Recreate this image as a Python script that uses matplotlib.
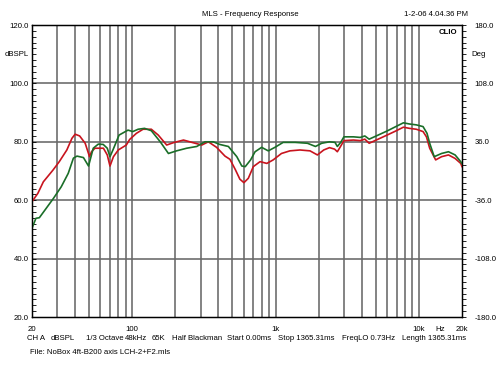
import numpy as np
import matplotlib.pyplot as plt
from matplotlib.ticker import FixedLocator, FormatStrFormatter

plt.rcParams['font.family'] = ['Liberation Sans', 'DejaVu Sans']

# red trace (Hz, dBSPL)
freq_red = [20, 22, 24, 28, 31, 35, 38, 40, 43, 47, 50.4, 52, 55, 63, 67, 70, 74, 80, 91,
            96, 107, 119, 136, 152, 174, 194, 228, 261, 306, 340, 388, 444, 481, 524,
            564, 602, 646, 700, 780, 870, 963, 1100, 1260, 1480, 1740, 1960, 2170, 2380,
            2580, 2700, 2850, 3000, 3500, 3900, 4200, 4500, 5200, 6000, 6900, 7800, 8600,
            9600, 10700, 11300, 11900, 13100, 14400, 16100, 17900, 19600, 20000]
spl_red = [59.5, 62.4, 66.3, 70.3, 73.2, 77.2, 81.2, 82.6, 82.0, 79.5, 74.9, 76.6, 77.8,
           77.8, 75.5, 71.7, 74.9, 77.2, 78.9, 80.8, 82.9, 84.3, 84.3, 82.3, 78.9, 79.7,
           80.6, 79.8, 78.9, 80.0, 78.1, 75.1, 74.0, 70.5, 67.2, 66.0, 67.5, 71.5, 73.2,
           72.6, 73.8, 76.0, 76.9, 77.2, 76.9, 75.5, 77.2, 78.0, 77.5, 76.6, 78.5, 80.4,
           80.6, 80.4, 80.9, 79.5, 80.9, 82.3, 83.7, 85.0, 84.6, 84.3, 83.5, 81.7, 77.8,
           73.8, 74.9, 75.5, 74.3, 72.6, 71.5]

# green trace (Hz, dBSPL)
freq_green = [20, 21.3, 22.5, 24.6, 28.2, 32, 35.8, 38.9, 41.2, 45.7, 49.6, 53.5, 58, 62.8,
              67, 70, 73.7, 81, 93.5, 101, 110, 122, 136, 157, 179, 204, 240, 282, 322,
              368, 408, 469, 537, 582, 615, 670, 720, 800, 890, 990, 1130, 1370, 1670,
              1900, 2100, 2380, 2600, 2700, 2850, 3000, 3500, 3900, 4200, 4500, 5200,
              6000, 6900, 7800, 8600, 9600, 10700, 11400, 11900, 12800, 14400, 16100,
              17900, 19600, 20000]
spl_green = [50.4, 53.8, 54.0, 56.6, 60.6, 64.6, 69.2, 74.4, 75.1, 74.6, 71.7, 77.8, 79.2,
             79.1, 77.8, 74.9, 77.4, 82.3, 84.0, 83.5, 84.3, 84.6, 83.8, 80.0, 76.0, 76.9,
             77.8, 78.4, 80.0, 80.0, 79.1, 78.4, 74.9, 71.7, 71.5, 73.8, 76.6, 78.1, 76.9,
             78.1, 79.8, 79.8, 79.5, 78.4, 79.5, 80.0, 79.8, 78.4, 79.8, 81.7, 81.7, 81.5,
             82.0, 80.9, 82.3, 83.7, 85.2, 86.5, 86.1, 85.8, 85.2, 82.9, 79.5, 74.9, 76.0,
             76.6, 75.5, 73.2, 72.5]

left_ticks = [20, 40, 60, 80, 100, 120]
right_ticks = [-180, -108, -36, 36, 108, 180]
grid_freqs = [30, 40, 50, 60, 70, 80, 90, 100, 200, 300, 400, 500, 600, 700, 800, 900,
              1000, 2000, 3000, 4000, 5000, 6000, 7000, 8000, 9000, 10000]
x_labels = {20: '20', 100: '100', 1000: '1k', 10000: '10k', 20000: '20k'}
info = ['CH A', 'dBSPL', '1/3 Octave', '48kHz', '65K', 'Half Blackman', 'Start 0.00ms',
        'Stop 1365.31ms', 'FreqLO 0.73Hz', 'Length 1365.31ms']
info_x = [27, 51, 86, 125, 152, 172, 227, 278, 342, 402]

fs = 5.6
fig = plt.figure(figsize=(5, 3.75), dpi=100)
ax = fig.add_axes([32 / 500, 1 - 317 / 375, 430 / 500, 292 / 375])
ax.set_xscale('log')
ax.set_xlim(20, 20000)
ax.set_ylim(20, 120)

for f in grid_freqs:
    ax.axvline(f, color='#686868', lw=1.15, zorder=1)
for v in left_ticks[1:-1]:
    ax.axhline(v, color='#686868', lw=1.15, zorder=1)

ax.plot(freq_red, spl_red, color='#c8141e', lw=1.2, zorder=3)
ax.plot(freq_green, spl_green, color='#1a6e28', lw=1.2, zorder=3)

ax.xaxis.set_major_locator(FixedLocator([]))
ax.xaxis.set_minor_locator(FixedLocator([]))
ax.yaxis.set_major_locator(FixedLocator(left_ticks))
ax.yaxis.set_minor_locator(FixedLocator(np.arange(20, 121, 2)))
ax.yaxis.set_major_formatter(FormatStrFormatter('%.1f'))
ax.tick_params(axis='y', which='both', direction='in', length=3, width=0.6,
               labelsize=fs, pad=2.5)
for s in ax.spines.values():
    s.set_linewidth(1.0)

ax2 = ax.twinx()
ax2.set_ylim(-180, 180)
ax2.yaxis.set_major_locator(FixedLocator(right_ticks))
ax2.yaxis.set_minor_locator(FixedLocator(np.arange(-180, 181, 7.2)))
ax2.yaxis.set_major_formatter(FormatStrFormatter('%.1f'))
ax2.tick_params(axis='y', which='both', direction='out', length=3, width=0.6,
                labelsize=fs, pad=6)

for f, lab in x_labels.items():
    ax.text(f, -0.03, lab, transform=ax.get_xaxis_transform(), ha='center', va='top',
            fontsize=fs)
ax.text(14000, -0.03, 'Hz', transform=ax.get_xaxis_transform(), ha='center', va='top',
        fontsize=fs)

fig.text(250 / 500, 1 - 14 / 375, 'MLS - Frequency Response', ha='center', va='center',
         fontsize=fs)
fig.text(468 / 500, 1 - 14 / 375, '1-2-06 4.04.36 PM', ha='right', va='center', fontsize=fs)
fig.text(29 / 500, 1 - 55 / 375, 'dBSPL', ha='right', va='center', fontsize=fs)
fig.text(471 / 500, 1 - 55 / 375, 'Deg', ha='left', va='center', fontsize=fs)
fig.text(457 / 500, 1 - 32 / 375, 'CLIO', ha='right', va='center', fontsize=fs,
         fontweight='bold')

for x, t in zip(info_x, info):
    fig.text(x / 500, 1 - 339 / 375, t, ha='left', va='center', fontsize=fs)
fig.text(30 / 500, 1 - 353 / 375, 'File: NoBox 4ft-B200 axis LCH-2+F2.mls', ha='left',
         va='center', fontsize=fs)

fig.savefig('out.png', dpi=100)
